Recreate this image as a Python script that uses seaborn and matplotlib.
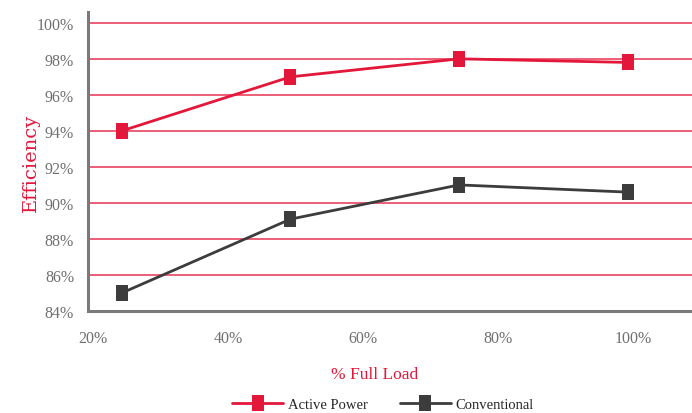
import matplotlib
matplotlib.use("Agg")
import matplotlib.pyplot as plt
import matplotlib.transforms as mtransforms
import seaborn as sns
from matplotlib.ticker import FuncFormatter

# Data
load = [25, 50, 75, 100]
active_power = [94.0, 97.0, 98.0, 97.8]
conventional = [85.0, 89.1, 91.0, 90.6]

red = "#e3173a"
dark = "#3c3c3c"
axis_grey = "#7a7a7a"
text_grey = "#707070"

sns.set_style("white")
plt.rcParams["font.family"] = ["Liberation Serif", "DejaVu Serif"]

fig = plt.figure(figsize=(6.92, 4.14), dpi=100)
ax = fig.add_axes([88 / 692, 102 / 414, 604 / 692, 299 / 414])

# tall rectangle marker like the original
rect = [(-0.75, -1), (0.75, -1), (0.75, 1), (-0.75, 1), (-0.75, -1)]

sns.lineplot(x=load, y=active_power, color=red, linewidth=2.0, marker=rect,
             markersize=12, markeredgewidth=0, label="Active Power", ax=ax)
sns.lineplot(x=load, y=conventional, color=dark, linewidth=2.0, marker=rect,
             markersize=12, markeredgewidth=0, label="Conventional", ax=ax)

ax.set_xlim(20, 109.5)
ax.set_ylim(84, 100.6)
ax.set_xticks([20, 40, 60, 80, 100])
ax.set_yticks(range(84, 101, 2))
ax.xaxis.set_major_formatter(FuncFormatter(lambda v, p: f"{v:.0f}%"))
ax.yaxis.set_major_formatter(FuncFormatter(lambda v, p: f"{v:.0f}%"))

ax.grid(axis="y", color="#e8334f", linewidth=1.1)
ax.grid(axis="x", visible=False)
ax.set_axisbelow(True)

for s in ["top", "right"]:
    ax.spines[s].set_visible(False)
for s in ["left", "bottom"]:
    ax.spines[s].set_color(axis_grey)
    ax.spines[s].set_linewidth(2.2)

ax.tick_params(axis="y", length=0, pad=10, labelsize=11.5, labelcolor=text_grey)
ax.tick_params(axis="x", length=0, pad=14, labelsize=11.5, labelcolor=text_grey)

# x tick labels sit a little right of their ticks in the original
shift = mtransforms.ScaledTranslation(5 / 100, 0, fig.dpi_scale_trans)
for lbl in ax.get_xticklabels():
    lbl.set_transform(lbl.get_transform() + shift)

ax.set_ylabel("Efficiency", color=red, fontsize=14, family="DejaVu Serif", labelpad=-2)
ax.set_xlabel("% Full Load", color=red, fontsize=12.5)
ax.xaxis.set_label_coords(0.475, -0.185)

ax.get_legend().remove()
handles, labels = ax.get_legend_handles_labels()
fig.legend(handles, labels, loc="center", bbox_to_anchor=(0.553, 0.02), ncol=2,
           frameon=False, fontsize=10.5, handlelength=3.5, handletextpad=0.3,
           columnspacing=2.2)

fig.savefig("out.png", dpi=100)
